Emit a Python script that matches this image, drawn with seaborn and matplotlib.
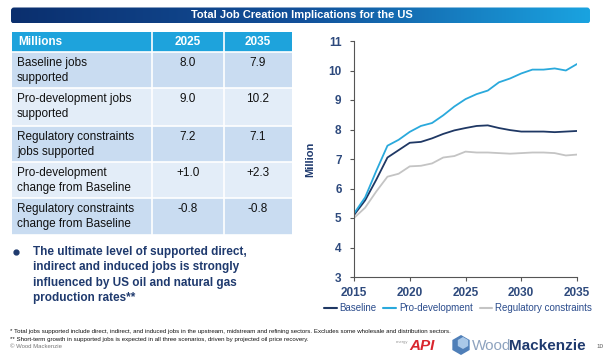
import numpy as np
import pandas as pd
import matplotlib
matplotlib.use("Agg")
import matplotlib.pyplot as plt
import seaborn as sns
from matplotlib.patches import Rectangle, RegularPolygon, FancyBboxPatch
from matplotlib.lines import Line2D
from matplotlib.colors import LinearSegmentedColormap

# ---------------- data ----------------
years = list(range(2015, 2036))
baseline = [5.10, 5.60, 6.30, 7.05, 7.30, 7.55, 7.58, 7.70, 7.85, 7.97, 8.05,
            8.12, 8.14, 8.05, 7.98, 7.93, 7.93, 7.93, 7.91, 7.93, 7.95]
pro_dev = [5.15, 5.70, 6.60, 7.45, 7.65, 7.92, 8.12, 8.22, 8.48, 8.78, 9.03,
           9.20, 9.32, 9.60, 9.73, 9.90, 10.03, 10.03, 10.07, 10.00, 10.22]
regulatory = [5.00, 5.35, 5.90, 6.40, 6.50, 6.75, 6.77, 6.85, 7.05, 7.10, 7.25,
              7.22, 7.22, 7.20, 7.18, 7.20, 7.22, 7.22, 7.20, 7.12, 7.15]
series_names = ["Baseline", "Pro-development", "Regulatory constraints"]

table_header = ["Millions", "2025", "2035"]
table_labels = [["Baseline jobs", "supported"],
                ["Pro-development jobs", "supported"],
                ["Regulatory constraints", "jobs supported"],
                ["Pro-development", "change from Baseline"],
                ["Regulatory constraints", "change from Baseline"]]
table_2025 = ["8.0", "9.0", "7.2", "+1.0", "-0.8"]
table_2035 = ["7.9", "10.2", "7.1", "+2.3", "-0.8"]

title = "Total Job Creation Implications for the US"
bullet_lines = ["The ultimate level of supported direct,",
                "indirect and induced jobs is strongly",
                "influenced by US oil and natural gas",
                "production rates**"]
footnotes = ["* Total jobs supported include direct, indirect, and induced jobs in the upstream, midstream and refining sectors. Excludes some wholesale and distribution sectors.",
             "** Short-term growth in supported jobs is expected in all three scenarios, driven by projected oil price recovery."]

df = pd.DataFrame({
    "Year": years * 3,
    "Value": baseline + pro_dev + regulatory,
    "Scenario": [series_names[0]] * len(years) + [series_names[1]] * len(years) + [series_names[2]] * len(years),
})

# ---------------- style ----------------
sns.set_theme(style="white")
plt.rcParams["font.family"] = ["Liberation Sans", "DejaVu Sans"]

NAVY = "#1f3a6e"
TICKC = "#2e4a7d"
CYAN = "#2aa9dc"
GRAY = "#c4c4c4"
palette = {series_names[0]: "#1f3864", series_names[1]: CYAN, series_names[2]: GRAY}

W, H = 607, 361
fig = plt.figure(figsize=(W / 100, H / 100), dpi=100)
fig.patch.set_facecolor("white")

def fx(px):
    return px / W

def fy(py):
    return 1 - py / H

# ---------------- chart ----------------
ax = fig.add_axes([fx(354), fy(277), fx(577) - fx(354), fy(41) - fy(277)])
sns.lineplot(data=df, x="Year", y="Value", hue="Scenario", palette=palette,
             linewidth=1.3, ax=ax, legend=False)
ax.set_xlim(2015, 2035)
ax.set_ylim(3, 11)
ax.set_xticks([2015, 2020, 2025, 2030, 2035])
ax.set_yticks(range(3, 12))
ax.set_xlabel("")
ax.set_ylabel("Million", fontsize=8, fontweight="bold", color=NAVY, labelpad=9)
for s in ["top", "right"]:
    ax.spines[s].set_visible(False)
for s in ["left", "bottom"]:
    ax.spines[s].set_color("#555555")
    ax.spines[s].set_linewidth(0.8)
ax.tick_params(axis="both", which="both", direction="out", length=3, width=0.8,
               color="#555555", labelsize=8.5, labelcolor=TICKC,
               bottom=True, left=True)
ax.tick_params(axis="y", pad=6)
ax.tick_params(axis="x", pad=4)
for lab in ax.get_xticklabels() + ax.get_yticklabels():
    lab.set_fontweight("bold")
ax.set_facecolor("white")

handles = [Line2D([0], [0], color=palette[n], lw=1.5) for n in series_names]
fig.legend(handles, series_names, loc="center", bbox_to_anchor=(fx(458), fy(308)),
           ncol=3, frameon=False, fontsize=7, handlelength=1.3, handletextpad=0.3,
           columnspacing=0.7, labelcolor="#2b4c8c")

# ---------------- overlay (pixel coordinates) ----------------
ov = fig.add_axes([0, 0, 1, 1], zorder=-1)
ov.set_xlim(0, W)
ov.set_ylim(H, 0)
ov.axis("off")

# title banner with gradient (rounded)
grad = np.linspace(0, 1, 256).reshape(1, -1)
cmap = LinearSegmentedColormap.from_list("banner", ["#0b2f6e", "#12509a", "#1aa3e0"])
im = ov.imshow(grad, cmap=cmap, aspect="auto", extent=(11, 590, 23.5, 7.5), zorder=1)
clip = FancyBboxPatch((11, 7.5), 579, 16, boxstyle="round,pad=0,rounding_size=3",
                      transform=ov.transData, facecolor="none", edgecolor="none")
ov.add_patch(clip)
im.set_clip_path(clip)
ov.text(302, 15.5, title, ha="center", va="center", color="white",
        fontsize=8, fontweight="bold", zorder=2)

# table
col_x = [12, 152, 224, 292]
row_y = [32, 52, 88, 126, 162, 198, 235]
dark_row = "#c9dcf1"
light_row = "#e3edf8"
ov.add_patch(Rectangle((col_x[0], row_y[0]), col_x[3] - col_x[0], row_y[1] - row_y[0],
                       facecolor="#1ea3dc", edgecolor="none", zorder=1))
for i in range(5):
    c = dark_row if i % 2 == 0 else light_row
    ov.add_patch(Rectangle((col_x[0], row_y[i + 1]), col_x[3] - col_x[0],
                           row_y[i + 2] - row_y[i + 1], facecolor=c,
                           edgecolor="none", zorder=1))
for i in range(1, 7):
    ov.plot([col_x[0], col_x[3]], [row_y[i], row_y[i]], color="white", lw=1.2, zorder=2)
for xx in col_x[1:3]:
    ov.plot([xx, xx], [row_y[0], row_y[-1]], color="white", lw=1.2, zorder=2)

ov.text(18, 42, table_header[0], ha="left", va="center", color="white",
        fontsize=8.5, fontweight="bold", zorder=3)
ov.text(188, 42, table_header[1], ha="center", va="center", color="white",
        fontsize=8.5, fontweight="bold", zorder=3)
ov.text(258, 42, table_header[2], ha="center", va="center", color="white",
        fontsize=8.5, fontweight="bold", zorder=3)
for i in range(5):
    y1 = row_y[i + 1] + 11
    y2 = y1 + 15.5
    ov.text(17, y1, table_labels[i][0], ha="left", va="center", color="#111111",
            fontsize=8.5, zorder=3)
    ov.text(17, y2, table_labels[i][1], ha="left", va="center", color="#111111",
            fontsize=8.5, zorder=3)
    ov.text(188, y1, table_2025[i], ha="center", va="center", color="#111111",
            fontsize=8.5, zorder=3)
    ov.text(258, y1, table_2035[i], ha="center", va="center", color="#111111",
            fontsize=8.5, zorder=3)

# bullet text
ov.plot([16], [252], marker="o", markersize=3.5, color=NAVY, zorder=3)
for k, line in enumerate(bullet_lines):
    ov.text(33, 252 + k * 15.3, line, ha="left", va="center", color=NAVY,
            fontsize=8.5, fontweight="bold", zorder=3)

# footnotes
ov.text(10, 332, footnotes[0], ha="left", va="center", fontsize=4.4, color="#111111")
ov.text(10, 340, footnotes[1], ha="left", va="center", fontsize=4.4, color="#111111")
ov.text(10, 346, "\u00a9 Wood Mackenzie", ha="left", va="center", fontsize=4.3, color="#777777")

# logos (text approximations)
ov.text(396, 342, "energy", ha="left", va="center", fontsize=3, color="#999999")
ov.text(409, 346, "API", ha="left", va="center", fontsize=11, fontweight="bold",
        fontstyle="italic", color="#d9262e")
ov.add_patch(RegularPolygon((461, 345), numVertices=6, radius=10,
                            facecolor="#4f7fb8", edgecolor="none", zorder=2))
ov.add_patch(RegularPolygon((463, 343), numVertices=6, radius=6,
                            facecolor="#a9c8e8", edgecolor="none", zorder=3))
ov.text(472, 346, "Wood", ha="left", va="center", fontsize=11, color="#8ea3bf")
ov.text(509, 346, "Mackenzie", ha="left", va="center", fontsize=11,
        fontweight="bold", color="#1f3a6e")
ov.text(596, 346, "10", ha="left", va="center", fontsize=4.5, color="#555555")

fig.savefig("out.png", dpi=100, facecolor="white")
